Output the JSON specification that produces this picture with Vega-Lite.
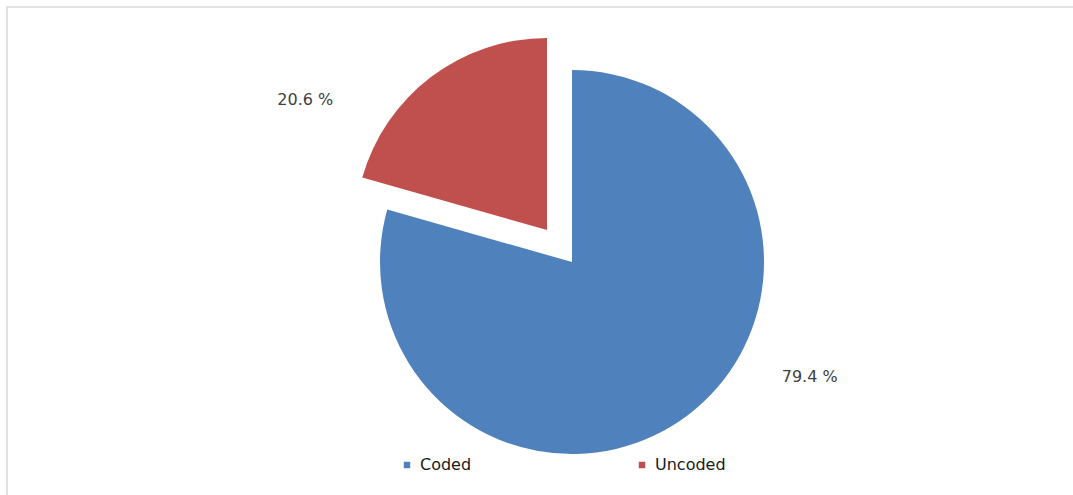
{
  "$schema": "https://vega.github.io/schema/vega-lite/v6.json",
  "width": 1130,
  "height": 510,
  "autosize": {"type": "none"},
  "padding": {"left": 7, "top": 7, "right": 0, "bottom": 0},
  "background": "white",
  "view": {"stroke": "#d9d9d9", "strokeWidth": 1.5},
  "config": {
    "view": {"stroke": "#d9d9d9", "strokeWidth": 1.5},
    "font": "DejaVu Sans"
  },
  "data": {
    "values": [
      {"category": "Coded", "value": 79.4, "label": "79.4 %"},
      {"category": "Uncoded", "value": 20.6, "label": "20.6 %"}
    ]
  },
  "layer": [
    {
      "mark": {"type": "arc", "radius": 192},
      "encoding": {
        "theta": {"field": "value", "type": "quantitative", "stack": true},
        "order": {"field": "category", "type": "nominal"},
        "color": {
          "field": "category",
          "type": "nominal",
          "scale": {"domain": ["Coded", "Uncoded"], "range": ["#4F81BD", "#C0504D"]},
          "legend": {
            "orient": "none",
            "legendX": 392,
            "legendY": 450,
            "direction": "horizontal",
            "title": null,
            "symbolType": "square",
            "symbolSize": 42,
            "symbolOpacity": 1,
            "symbolStrokeWidth": 0,
            "labelFontSize": 16,
            "labelColor": "#1a1a1a",
            "labelFont": "DejaVu Sans",
            "labelOffset": 5,
            "columnPadding": 162
          }
        },
        "fillOpacity": {
          "condition": {"test": "datum.category === 'Coded'", "value": 1},
          "value": 0
        }
      }
    },
    {
      "mark": {"type": "arc", "radius": 192, "xOffset": -25, "yOffset": -32},
      "encoding": {
        "theta": {"field": "value", "type": "quantitative", "stack": true},
        "order": {"field": "category", "type": "nominal"},
        "color": {"field": "category", "type": "nominal", "legend": null},
        "fillOpacity": {
          "condition": {"test": "datum.category === 'Uncoded'", "value": 1},
          "value": 0
        }
      }
    },
    {
      "mark": {"type": "text", "radius": 192, "align": "left", "baseline": "middle", "dx": 94, "dy": -38, "fontSize": 16, "color": "#404040"},
      "encoding": {
        "theta": {"field": "value", "type": "quantitative", "stack": true},
        "order": {"field": "category", "type": "nominal"},
        "detail": {"field": "category", "type": "nominal"},
        "text": {
          "condition": {"test": "datum.category === 'Coded'", "field": "label", "type": "nominal"},
          "value": ""
        }
      }
    },
    {
      "mark": {"type": "text", "radius": 192, "align": "right", "baseline": "middle", "dx": -123, "dy": -9, "fontSize": 16, "color": "#404040"},
      "encoding": {
        "theta": {"field": "value", "type": "quantitative", "stack": true},
        "order": {"field": "category", "type": "nominal"},
        "detail": {"field": "category", "type": "nominal"},
        "text": {
          "condition": {"test": "datum.category === 'Uncoded'", "field": "label", "type": "nominal"},
          "value": ""
        }
      }
    }
  ]
}
